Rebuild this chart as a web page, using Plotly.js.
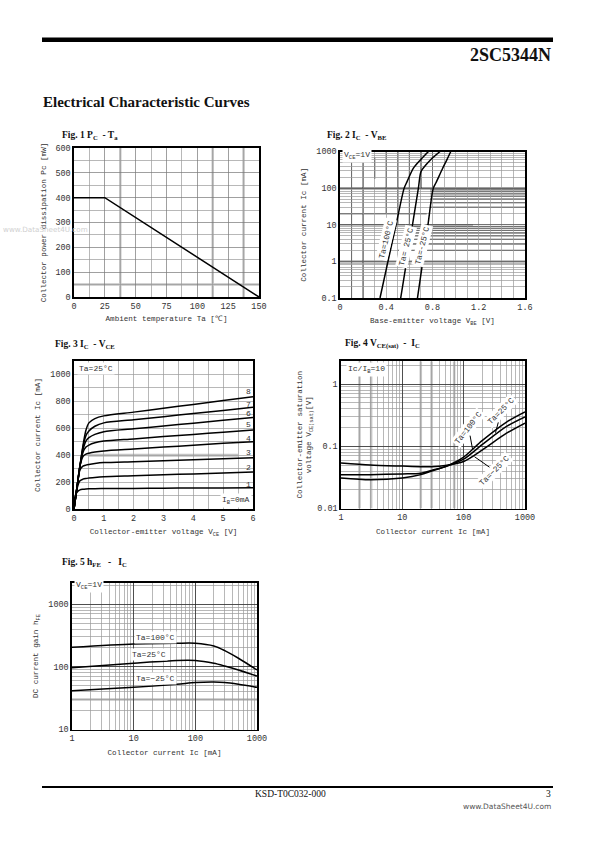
<!DOCTYPE html>
<html><head><meta charset="utf-8">
<script src="https://cdn.plot.ly/plotly-3.0.1.min.js"></script>
<style>html,body{margin:0;padding:0;background:#fff}#c{width:595px;height:842px}</style>
</head><body><div id="c"></div>
<script>
// ---------- Fig.1 Pc - Ta ----------
const fig1_ta = [0, 25, 150];
const fig1_pc = [400, 400, 0];

// ---------- Fig.2 Ic - VBE (VCE=1V) ----------
const fig2_ic_100 = [0.1, 1, 10, 100, 150, 350, 600, 1000];
const fig2_vbe_100 = [0.346, 0.415, 0.485, 0.555, 0.58, 0.635, 0.698, 0.765];
const fig2_ic_25 = [0.1, 1, 10, 100, 280, 420, 580, 1000];
const fig2_vbe_25 = [0.525, 0.576, 0.627, 0.678, 0.70, 0.74, 0.78, 0.865];
const fig2_ic_m25 = [0.1, 1, 10, 100, 140, 350, 600, 1000];
const fig2_vbe_m25 = [0.67, 0.716, 0.761, 0.807, 0.83, 0.888, 0.925, 0.958];

// ---------- Fig.3 Ic - VCE (Ta=25C) ----------
const fig3_vce = [0, 0.03, 0.1, 0.2, 0.3, 0.4, 0.5, 0.7, 1, 2, 3, 4, 5, 6];
const fig3_ib8 = [0, 48, 160, 320, 470, 585, 640, 672, 692, 720, 749, 777, 806, 835];
const fig3_ib7 = [0, 48, 160, 320, 460, 545, 580, 615, 640, 663, 686, 710, 733, 757];
const fig3_ib6 = [0, 48, 160, 320, 440, 505, 530, 555, 575, 596, 617, 638, 659, 680];
const fig3_ib5 = [0, 48, 160, 320, 420, 460, 475, 492, 505, 521, 538, 554, 571, 587];
const fig3_ib4 = [0, 48, 160, 320, 390, 408, 415, 424, 432, 446, 460, 474, 488, 500];
const fig3_ib3 = [0, 48, 160, 290, 318, 326, 331, 338, 345, 352, 359, 366, 373, 380];
const fig3_ib2 = [0, 48, 150, 210, 222, 227, 230, 235, 240, 247, 254, 261, 268, 275];
const fig3_ib1 = [0, 90, 125, 142, 147, 149, 150, 151, 152, 153, 155, 156, 157, 158];
const fig3_labels = ['1', '2', '3', '4', '5', '6', '7', '8'];
const fig3_label_y = [180, 305, 417, 522, 630, 710, 780, 875];

// ---------- Fig.4 VCE(sat) - Ic (Ic/Ib=10) ----------
const fig4_ic = [1, 3, 10, 20, 30, 50, 100, 200, 500, 1000];
const fig4_v_100 = [0.031, 0.029, 0.031, 0.035, 0.040, 0.047, 0.067, 0.123, 0.245, 0.357];
const fig4_v_25 = [0.035, 0.035, 0.036, 0.037, 0.041, 0.047, 0.062, 0.106, 0.208, 0.296];
const fig4_v_m25 = [0.054, 0.050, 0.048, 0.047, 0.047, 0.049, 0.057, 0.087, 0.162, 0.236];

// ---------- Fig.5 hFE - Ic (VCE=1V) ----------
const fig5_ic = [1, 10, 50, 100, 200, 300, 500, 1000];
const fig5_h_100 = [205, 232, 238, 238, 215, 181, 137, 89];
const fig5_h_25 = [97, 114, 126, 126, 114, 103, 89, 71];
const fig5_h_m25 = [41.6, 47, 52.5, 56, 57, 56, 52.5, 47];

// ---------- helpers ----------
const W = 595, H = 842;
const px = v => v / W;
const py = v => 1 - v / H;
const lg = Math.log10;
const MONO = 'Liberation Mono, DejaVu Sans Mono, monospace';
const SERIF = 'Liberation Serif, Times New Roman, serif';
const TXT = '#333';
const GRID = '#9a9a9a';
const tickfont = {family: MONO, size: 8.5, color: TXT};
const titlefont = {family: MONO, size: 7.6, color: TXT};

function ax(opts) {
  return Object.assign({
    showline: true, mirror: true, linecolor: '#000', linewidth: 1.6,
    ticks: '', showgrid: true, gridcolor: GRID, gridwidth: 0.7,
    zeroline: false, tickfont: tickfont, fixedrange: true, layer: 'below traces'
  }, opts);
}
function line(x, y, xa, ya, shape) {
  return {x: x, y: y, xaxis: xa, yaxis: ya, mode: 'lines', hoverinfo: 'skip',
    line: {color: '#000', width: 1.5, shape: shape || 'spline', smoothing: 0.8}, showlegend: false};
}

const traces = [
  line(fig1_ta, fig1_pc, 'x', 'y', 'linear'),
  line(fig2_vbe_100, fig2_ic_100, 'x2', 'y2'),
  line(fig2_vbe_25, fig2_ic_25, 'x2', 'y2'),
  line(fig2_vbe_m25, fig2_ic_m25, 'x2', 'y2'),
  line(fig3_vce, fig3_ib1, 'x3', 'y3'),
  line(fig3_vce, fig3_ib2, 'x3', 'y3'),
  line(fig3_vce, fig3_ib3, 'x3', 'y3'),
  line(fig3_vce, fig3_ib4, 'x3', 'y3'),
  line(fig3_vce, fig3_ib5, 'x3', 'y3'),
  line(fig3_vce, fig3_ib6, 'x3', 'y3'),
  line(fig3_vce, fig3_ib7, 'x3', 'y3'),
  line(fig3_vce, fig3_ib8, 'x3', 'y3'),
  line(fig4_ic, fig4_v_100, 'x4', 'y4'),
  line(fig4_ic, fig4_v_25, 'x4', 'y4'),
  line(fig4_ic, fig4_v_m25, 'x4', 'y4'),
  line(fig5_ic, fig5_h_100, 'x5', 'y5'),
  line(fig5_ic, fig5_h_25, 'x5', 'y5'),
  line(fig5_ic, fig5_h_m25, 'x5', 'y5')
];

const logMinor = {dtick: 'D1', showgrid: true, gridcolor: GRID, gridwidth: 0.7, ticks: ''};

const layout = {
  width: W, height: H, margin: {l: 0, r: 0, t: 0, b: 0},
  paper_bgcolor: '#fff', plot_bgcolor: '#fff', showlegend: false,
  font: {family: MONO, color: TXT},
  // Fig 1
  xaxis: ax({domain: [px(74), px(259)], anchor: 'y', range: [0, 150], dtick: 25, tick0: 0,
    gridcolor: '#777',
    minor: {dtick: 12.5, showgrid: true, gridcolor: GRID, gridwidth: 0.7},
    title: {text: 'Ambient temperature Ta [℃]', font: titlefont, standoff: 5}}),
  yaxis: ax({domain: [py(297), py(148)], anchor: 'x', range: [0, 600], dtick: 100, tick0: 0,
    gridcolor: '#777',
    minor: {dtick: 50, showgrid: true, gridcolor: GRID, gridwidth: 0.7},
    title: {text: 'Collector power dissipation Pc [mW]', font: titlefont, standoff: 8}}),
  // Fig 2
  xaxis2: ax({domain: [px(340), px(525)], anchor: 'y2', range: [0, 1.6], dtick: 0.4, tick0: 0,
    minor: {dtick: 0.1, showgrid: true, gridcolor: GRID, gridwidth: 0.7},
    title: {text: 'Base-emitter voltage V<sub>BE</sub> [V]', font: titlefont, standoff: 6}}),
  yaxis2: ax({domain: [py(298), py(151.5)], anchor: 'x2', type: 'log', range: [-1, 3],
    tickvals: [0.1, 1, 10, 100, 1000], ticktext: ['0.1', '1', '10', '100', '1000'], minor: logMinor,
    gridcolor: '#555',
    title: {text: 'Collector current Ic [mA]', font: titlefont, standoff: 8}}),
  // Fig 3
  xaxis3: ax({domain: [px(74), px(253)], anchor: 'y3', range: [0, 6], dtick: 1, tick0: 0,
    minor: {dtick: 0.5, showgrid: true, gridcolor: GRID, gridwidth: 0.7},
    title: {text: 'Collector-emitter voltage V<sub>CE</sub> [V]', font: titlefont, standoff: 6}}),
  yaxis3: ax({domain: [py(509), py(361)], anchor: 'x3', range: [0, 1100], dtick: 200, tick0: 0,
    minor: {dtick: 100, showgrid: true, gridcolor: GRID, gridwidth: 0.7},
    title: {text: 'Collector current Ic [mA]', font: titlefont, standoff: 8}}),
  // Fig 4
  xaxis4: ax({domain: [px(341), px(525)], anchor: 'y4', type: 'log', range: [0, 3],
    tickvals: [1, 10, 100, 1000], ticktext: ['1', '10', '100', '1000'], minor: logMinor,
    gridcolor: '#222',
    title: {text: 'Collector current Ic [mA]', font: titlefont, standoff: 6}}),
  yaxis4: ax({domain: [py(508.5), py(361)], anchor: 'x4', type: 'log', range: [-2, 0.37],
    tickvals: [0.01, 0.1, 1], ticktext: ['0.01', '0.1', '1'], minor: logMinor,
    gridcolor: '#222',
    title: {text: 'Collector-emitter saturation<br>voltage V<sub>CE(sat)</sub>[V]', font: titlefont, standoff: 4}}),
  // Fig 5
  xaxis5: ax({domain: [px(72), px(257)], anchor: 'y5', type: 'log', range: [0, 3],
    tickvals: [1, 10, 100, 1000], ticktext: ['1', '10', '100', '1000'], minor: logMinor,
    gridcolor: '#222',
    title: {text: 'Collector current Ic [mA]', font: titlefont, standoff: 6}}),
  yaxis5: ax({domain: [py(729.5), py(582.5)], anchor: 'x5', type: 'log', range: [1, 3.345],
    tickvals: [10, 100, 1000], ticktext: ['10', '100', '1000'], minor: logMinor,
    gridcolor: '#222',
    title: {text: 'DC current gain h<sub>FE</sub>', font: titlefont, standoff: 8}}),
  shapes: [
    {type: 'rect', xref: 'paper', yref: 'paper', x0: px(42), x1: px(553), y0: py(42), y1: py(37.5),
      fillcolor: '#000', line: {width: 0}},
    {type: 'line', xref: 'paper', yref: 'paper', x0: px(42), x1: px(553), y0: py(787), y1: py(787),
      line: {color: '#000', width: 2}}
  ],
  annotations: []
};

// scan-print grid accents visible in the reference (shape coords are data values)
const S = layout.shapes;
function seg(xr, yr, x0, x1, y0, y1, color, width) {
  S.push({type: 'line', xref: xr, yref: yr, x0: x0, x1: x1, y0: y0, y1: y1,
    layer: 'below', line: {color: color, width: width}});
}
const LG = '#c4c4c4';
// Fig 1
[37.5, 112.5, 137.5].forEach(v => seg('x', 'y', v, v, 0, 600, LG, 2.5));
seg('x', 'y', 0, 150, 50, 50, LG, 2.5);
// Fig 2
seg('x2', 'y2', 0, 1.6, 1, 1, LG, 3);
seg('x2', 'y2', 0, 1.6, 100, 100, '#000', 1);
seg('x2', 'y2', 0, 0.75, 20, 20, '#000', 1);
seg('x2', 'y2', 0, 1.15, 10, 10, '#000', 1);
seg('x2', 'y2', 0.5, 1.6, 2, 2, '#000', 1);
[30, 40, 50, 60, 70, 80, 90].forEach(v => seg('x2', 'y2', 0.78, 1.6, v, v, '#000', 1));
[3, 4, 5, 6, 7, 8, 9].forEach(v => seg('x2', 'y2', 0.6, 1.6, v, v, '#000', 1));
seg('x2', 'y2', 0.1, 0.1, 0.1, 700, '#000', 1);
seg('x2', 'y2', 0.2, 0.2, 0.1, 1000, '#000', 1);
seg('x2', 'y2', 0.3, 0.3, 180, 700, '#000', 1);
seg('x2', 'y2', 0.4, 0.4, 20, 1000, '#000', 1);
seg('x2', 'y2', 0.5, 0.5, 10, 1000, '#000', 1);
seg('x2', 'y2', 0.6, 0.6, 10, 1000, '#000', 1);
seg('x2', 'y2', 0.7, 0.7, 100, 1000, '#000', 1);
seg('x2', 'y2', 0.8, 0.8, 100, 1000, '#000', 1);
// Fig 3
seg('x3', 'y3', 0.5, 5.5, 400, 400, LG, 3);
// Fig 4
[2, 3.1, 20, 30, 70].forEach(v => seg('x4', 'y4', v, v, 0.01, 2.3, LG, 2.5));
// Fig 5
seg('x5', 'y5', 1, 1000, 30, 30, LG, 2.5);

const A = layout.annotations;
function pt(text, x, y, opts) {
  A.push(Object.assign({text: text, xref: 'paper', yref: 'paper', x: px(x), y: py(y),
    showarrow: false, xanchor: 'left', yanchor: 'middle'}, opts));
}
// page texts
pt('<b>2SC5344N</b>', 553, 55, {xanchor: 'right', font: {family: SERIF, size: 18, color: '#111'}});
pt('<b>Electrical Characteristic Curves</b>', 41, 102, {font: {family: SERIF, size: 15, color: '#111'}});
pt('KSD-T0C032-000', 290, 794, {xanchor: 'center', font: {family: SERIF, size: 9.5, color: '#111'}});
pt('3', 553, 794, {xanchor: 'right', font: {family: SERIF, size: 9.5, color: '#111'}});
pt('www.DataSheet4U.com', 553, 806, {xanchor: 'right', font: {family: 'DejaVu Sans, sans-serif', size: 7.5, color: '#555'}});
pt('www.DataSheet4U.com', 1, 229, {font: {family: 'DejaVu Sans, sans-serif', size: 7.2, color: '#d0d0d0'}});
// figure titles
const ft = {family: SERIF, size: 9.5, color: '#111'};
pt('<b>Fig. 1 P<sub>C</sub> &nbsp;- T<sub>a</sub></b>', 60, 136, {font: ft});
pt('<b>Fig. 2 I<sub>C</sub> &nbsp;- V<sub>BE</sub></b>', 325, 136, {font: ft});
pt('<b>Fig. 3 I<sub>C</sub> &nbsp;- V<sub>CE</sub></b>', 53, 345, {font: ft});
pt('<b>Fig. 4 V<sub>CE(sat)</sub> &nbsp;- &nbsp;I<sub>C</sub></b>', 343, 344, {font: ft});
pt('<b>Fig. 5 h<sub>FE</sub> &nbsp; - &nbsp;&nbsp;I<sub>C</sub></b>', 60, 562, {font: ft});

// in-plot labels
const lf = {family: MONO, size: 8, color: TXT};
function dl(text, xa, ya, x, y, opts) {
  A.push(Object.assign({text: text, xref: xa, yref: ya, x: x, y: y, showarrow: false,
    font: lf, bgcolor: '#fff', borderpad: 1}, opts));
}
// Fig 2
dl('V<sub>CE</sub>=1V', 'x2', 'y2', 0.015, lg(800), {xanchor: 'left'});
dl('Ta=100°C', 'x2', 'y2', 0.40, lg(3.9), {textangle: -76});
dl('Ta= 25°C', 'x2', 'y2', 0.57, lg(2.6), {textangle: -76});
dl('Ta=-25°C', 'x2', 'y2', 0.707, lg(2.8), {textangle: -76});
// Fig 3
dl('Ta=25°C', 'x3', 'y3', 0.1, 1047, {xanchor: 'left'});
dl('I<sub>B</sub>=0mA', 'x3', 'y3', 5.95, 65, {xanchor: 'right'});
fig3_labels.forEach((t, i) => dl(t, 'x3', 'y3', 5.85, fig3_label_y[i], {bgcolor: 'rgba(0,0,0,0)'}));
// Fig 4
dl('Ic/I<sub>B</sub>=10', 'x4', 'y4', 0.08, lg(1.7), {xanchor: 'left'});
A.push({text: 'Ta=100°C', xref: 'x4', yref: 'y4', x: lg(140), y: lg(0.088),
  ax: -4, ay: -22, showarrow: true, arrowhead: 0, arrowwidth: 1, arrowcolor: '#000',
  textangle: -52, font: lf, bgcolor: '#fff'});
A.push({text: 'Ta=25°C', xref: 'x4', yref: 'y4', x: lg(330), y: lg(0.165),
  ax: 6, ay: -22, showarrow: true, arrowhead: 0, arrowwidth: 1, arrowcolor: '#000',
  textangle: -45, font: lf, bgcolor: '#fff'});
A.push({text: 'Ta=−25°C', xref: 'x4', yref: 'y4', x: lg(150), y: lg(0.068),
  ax: 20, ay: 14, showarrow: true, arrowhead: 0, arrowwidth: 1, arrowcolor: '#000',
  textangle: -45, font: lf, bgcolor: '#fff'});
// Fig 5
dl('V<sub>CE</sub>=1V', 'x5', 'y5', 0.04, lg(2000), {xanchor: 'left'});
dl('Ta=100°C', 'x5', 'y5', lg(23), lg(297));
dl('Ta=25°C', 'x5', 'y5', lg(18), lg(155));
dl('Ta=−25°C', 'x5', 'y5', lg(22.4), lg(64.6));

Plotly.newPlot('c', traces, layout, {displayModeBar: false, staticPlot: true});
</script>
</body></html>
